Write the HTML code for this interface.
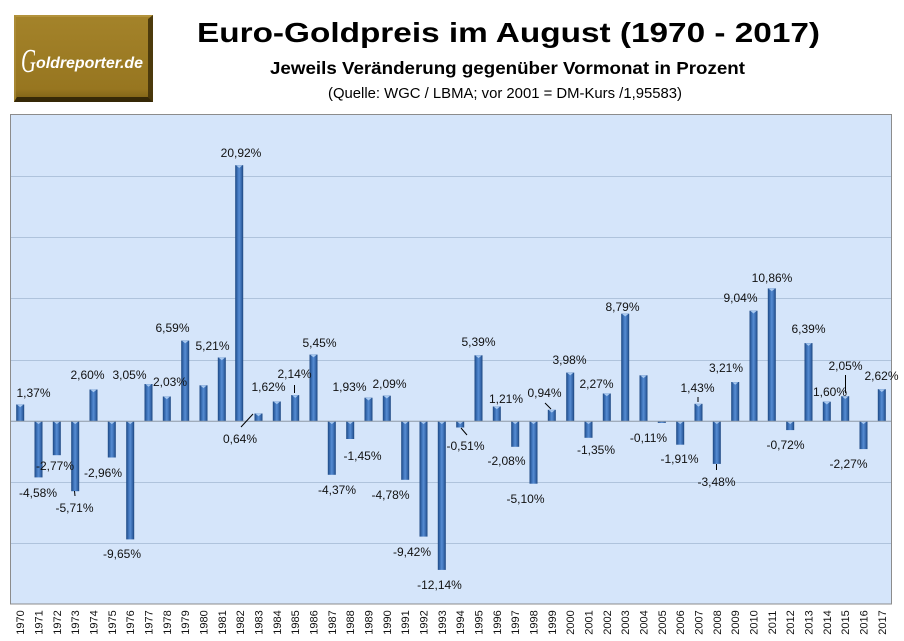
<!DOCTYPE html>
<html><head><meta charset="utf-8"><style>
html,body{margin:0;padding:0;background:#fff;}
svg{display:block;}
.t{font-family:"Liberation Sans",sans-serif;}
.dl{font-family:"Liberation Sans",sans-serif;font-size:12px;fill:#111;text-anchor:middle;}
.yr{font-family:"Liberation Sans",sans-serif;font-size:11px;fill:#111;text-anchor:middle;}
</style></head><body>
<svg width="904" height="641" viewBox="0 0 904 641" xmlns="http://www.w3.org/2000/svg">
<defs>
<linearGradient id="bg" x1="0" y1="0" x2="1" y2="0">
<stop offset="0" stop-color="#1D4781"/><stop offset="0.3" stop-color="#3E73BA"/><stop offset="0.5" stop-color="#568CD2"/><stop offset="0.75" stop-color="#3A6DB2"/><stop offset="1" stop-color="#1C457E"/>
</linearGradient>
<linearGradient id="lg" x1="0" y1="0" x2="0" y2="1">
<stop offset="0" stop-color="#A4832A"/><stop offset="0.85" stop-color="#977620"/><stop offset="1" stop-color="#7A5E14"/>
</linearGradient>
</defs>

<!-- Logo -->
<rect x="14" y="15" width="139" height="87" fill="url(#lg)"/>
<polygon points="14,15 153,15 151,17 16,17" fill="#B99A45" opacity="0.7"/>
<polygon points="14,15 16,17 16,99 14,102" fill="#B39240" opacity="0.6"/>
<polygon points="153,15 153,102 148,97 148,19" fill="#3E2F08" opacity="0.85"/>
<polygon points="14,102 153,102 148,97 17,97" fill="#2E2205" opacity="0.9"/>
<text x="21" y="72" font-family="Liberation Serif,serif" font-style="italic" font-size="34" fill="#fff" textLength="15" lengthAdjust="spacingAndGlyphs">G</text>
<text class="t" x="36" y="68" font-size="16" font-weight="bold" font-style="italic" fill="#fff" textLength="107" lengthAdjust="spacingAndGlyphs">oldreporter.de</text>

<!-- Titles -->
<text class="t" x="197" y="42" font-size="28" font-weight="bold" fill="#000" textLength="623" lengthAdjust="spacingAndGlyphs">Euro-Goldpreis im August (1970 - 2017)</text>
<text class="t" x="270" y="74" font-size="17.5" font-weight="bold" fill="#000" textLength="475" lengthAdjust="spacingAndGlyphs">Jeweils Veränderung gegenüber Vormonat in Prozent</text>
<text class="t" x="328" y="98" font-size="15" fill="#000" textLength="354" lengthAdjust="spacingAndGlyphs">(Quelle: WGC / LBMA; vor 2001 = DM-Kurs /1,95583)</text>

<!-- Plot area -->
<rect x="10.5" y="114.5" width="881" height="489.5" fill="#D5E5FA" stroke="#8C8C8C" stroke-width="1"/>
<g stroke="#AFC3DC" stroke-width="1">
<line x1="11" x2="891" y1="176.5" y2="176.5"/>
<line x1="11" x2="891" y1="237.5" y2="237.5"/>
<line x1="11" x2="891" y1="298.5" y2="298.5"/>
<line x1="11" x2="891" y1="360.5" y2="360.5"/>
<line x1="11" x2="891" y1="482.5" y2="482.5"/>
<line x1="11" x2="891" y1="543.5" y2="543.5"/>
</g>

<!-- Bars -->
<g fill="url(#bg)">
<rect x="16.2" y="404.5" width="8" height="16.8"/>
<rect x="34.5" y="421.3" width="8" height="56.1"/>
<rect x="52.8" y="421.3" width="8" height="33.9"/>
<rect x="71.2" y="421.3" width="8" height="69.9"/>
<rect x="89.5" y="389.5" width="8" height="31.8"/>
<rect x="107.8" y="421.3" width="8" height="36.2"/>
<rect x="126.2" y="421.3" width="8" height="118.1"/>
<rect x="144.5" y="384.0" width="8" height="37.3"/>
<rect x="162.8" y="396.5" width="8" height="24.8"/>
<rect x="181.2" y="340.6" width="8" height="80.7"/>
<rect x="199.5" y="385.3" width="8" height="36.0"/>
<rect x="217.8" y="357.5" width="8" height="63.8"/>
<rect x="235.2" y="165.2" width="8" height="256.1"/>
<rect x="254.5" y="413.5" width="8" height="7.8"/>
<rect x="272.8" y="401.5" width="8" height="19.8"/>
<rect x="291.2" y="395.1" width="8" height="26.2"/>
<rect x="309.5" y="354.6" width="8" height="66.7"/>
<rect x="327.8" y="421.3" width="8" height="53.5"/>
<rect x="346.2" y="421.3" width="8" height="17.7"/>
<rect x="364.5" y="397.7" width="8" height="23.6"/>
<rect x="382.8" y="395.7" width="8" height="25.6"/>
<rect x="401.2" y="421.3" width="8" height="58.5"/>
<rect x="419.5" y="421.3" width="8" height="115.3"/>
<rect x="437.8" y="421.3" width="8" height="148.6"/>
<rect x="456.2" y="421.3" width="8" height="6.2"/>
<rect x="474.5" y="355.3" width="8" height="66.0"/>
<rect x="492.8" y="406.5" width="8" height="14.8"/>
<rect x="511.2" y="421.3" width="8" height="25.5"/>
<rect x="529.5" y="421.3" width="8" height="62.4"/>
<rect x="547.8" y="409.8" width="8" height="11.5"/>
<rect x="566.2" y="372.6" width="8" height="48.7"/>
<rect x="584.5" y="421.3" width="8" height="16.5"/>
<rect x="602.8" y="393.5" width="8" height="27.8"/>
<rect x="621.2" y="313.7" width="8" height="107.6"/>
<rect x="639.5" y="375.3" width="8" height="46.0"/>
<rect x="657.8" y="421.3" width="8" height="1.6"/>
<rect x="676.2" y="421.3" width="8" height="23.4"/>
<rect x="694.5" y="403.8" width="8" height="17.5"/>
<rect x="712.8" y="421.3" width="8" height="42.6"/>
<rect x="731.2" y="382.0" width="8" height="39.3"/>
<rect x="749.5" y="310.7" width="8" height="110.6"/>
<rect x="767.8" y="288.4" width="8" height="132.9"/>
<rect x="786.2" y="421.3" width="8" height="8.8"/>
<rect x="804.5" y="343.1" width="8" height="78.2"/>
<rect x="822.8" y="401.7" width="8" height="19.6"/>
<rect x="841.2" y="396.2" width="8" height="25.1"/>
<rect x="859.5" y="421.3" width="8" height="27.8"/>
<rect x="877.8" y="389.2" width="8" height="32.1"/>
</g>

<!-- bar caps -->
<g fill="#A9C9F0">
<polygon points="17.2,404.8 23.2,404.8 20.2,407.3"/>
<polygon points="35.5,421.6 41.5,421.6 38.5,424.1"/>
<polygon points="53.8,421.6 59.8,421.6 56.8,424.1"/>
<polygon points="72.2,421.6 78.2,421.6 75.2,424.1"/>
<polygon points="90.5,389.8 96.5,389.8 93.5,392.3"/>
<polygon points="108.8,421.6 114.8,421.6 111.8,424.1"/>
<polygon points="127.2,421.6 133.2,421.6 130.2,424.1"/>
<polygon points="145.5,384.3 151.5,384.3 148.5,386.8"/>
<polygon points="163.8,396.8 169.8,396.8 166.8,399.3"/>
<polygon points="182.2,340.9 188.2,340.9 185.2,343.4"/>
<polygon points="200.5,385.6 206.5,385.6 203.5,388.1"/>
<polygon points="218.8,357.8 224.8,357.8 221.8,360.3"/>
<polygon points="236.2,165.5 242.2,165.5 239.2,168.0"/>
<polygon points="255.5,413.8 261.5,413.8 258.5,416.3"/>
<polygon points="273.8,401.8 279.8,401.8 276.8,404.3"/>
<polygon points="292.2,395.4 298.2,395.4 295.2,397.9"/>
<polygon points="310.5,354.9 316.5,354.9 313.5,357.4"/>
<polygon points="328.8,421.6 334.8,421.6 331.8,424.1"/>
<polygon points="347.2,421.6 353.2,421.6 350.2,424.1"/>
<polygon points="365.5,398.0 371.5,398.0 368.5,400.5"/>
<polygon points="383.8,396.0 389.8,396.0 386.8,398.5"/>
<polygon points="402.2,421.6 408.2,421.6 405.2,424.1"/>
<polygon points="420.5,421.6 426.5,421.6 423.5,424.1"/>
<polygon points="438.8,421.6 444.8,421.6 441.8,424.1"/>
<polygon points="457.2,421.6 463.2,421.6 460.2,424.1"/>
<polygon points="475.5,355.6 481.5,355.6 478.5,358.1"/>
<polygon points="493.8,406.8 499.8,406.8 496.8,409.3"/>
<polygon points="512.2,421.6 518.2,421.6 515.2,424.1"/>
<polygon points="530.5,421.6 536.5,421.6 533.5,424.1"/>
<polygon points="548.8,410.1 554.8,410.1 551.8,412.6"/>
<polygon points="567.2,372.9 573.2,372.9 570.2,375.4"/>
<polygon points="585.5,421.6 591.5,421.6 588.5,424.1"/>
<polygon points="603.8,393.8 609.8,393.8 606.8,396.3"/>
<polygon points="622.2,314.0 628.2,314.0 625.2,316.5"/>
<polygon points="640.5,375.6 646.5,375.6 643.5,378.1"/>
<polygon points="677.2,421.6 683.2,421.6 680.2,424.1"/>
<polygon points="695.5,404.1 701.5,404.1 698.5,406.6"/>
<polygon points="713.8,421.6 719.8,421.6 716.8,424.1"/>
<polygon points="732.2,382.3 738.2,382.3 735.2,384.8"/>
<polygon points="750.5,311.0 756.5,311.0 753.5,313.5"/>
<polygon points="768.8,288.7 774.8,288.7 771.8,291.2"/>
<polygon points="787.2,421.6 793.2,421.6 790.2,424.1"/>
<polygon points="805.5,343.4 811.5,343.4 808.5,345.9"/>
<polygon points="823.8,402.0 829.8,402.0 826.8,404.5"/>
<polygon points="842.2,396.5 848.2,396.5 845.2,399.0"/>
<polygon points="860.5,421.6 866.5,421.6 863.5,424.1"/>
<polygon points="878.8,389.5 884.8,389.5 881.8,392.0"/>
</g>

<!-- zero line -->
<line x1="11" x2="891" y1="421.3" y2="421.3" stroke="#8E99A6" stroke-width="1"/>

<!-- leader lines -->
<g stroke="#000" stroke-width="1" fill="none">
<line x1="74.5" y1="491" x2="75" y2="496"/>
<line x1="253" y1="414" x2="241" y2="427"/>
<line x1="294.5" y1="385" x2="294.5" y2="393"/>
<line x1="461" y1="428" x2="467" y2="435"/>
<line x1="545" y1="403" x2="551" y2="409"/>
<line x1="698" y1="397" x2="698" y2="402"/>
<line x1="716.5" y1="464" x2="716.5" y2="470"/>
<line x1="845.5" y1="375" x2="845.5" y2="393"/>
</g>

<!-- data labels -->
<text class="dl" x="33.5" y="397">1,37%</text>
<text class="dl" x="38" y="497">-4,58%</text>
<text class="dl" x="55" y="470">-2,77%</text>
<text class="dl" x="74.5" y="512">-5,71%</text>
<text class="dl" x="87.5" y="379">2,60%</text>
<text class="dl" x="103" y="477">-2,96%</text>
<text class="dl" x="122" y="558">-9,65%</text>
<text class="dl" x="129.5" y="379">3,05%</text>
<text class="dl" x="170" y="386">2,03%</text>
<text class="dl" x="172.5" y="332">6,59%</text>
<text class="dl" x="212.5" y="350">5,21%</text>
<text class="dl" x="241" y="157">20,92%</text>
<text class="dl" x="240" y="443">0,64%</text>
<text class="dl" x="268.5" y="391">1,62%</text>
<text class="dl" x="294.5" y="378">2,14%</text>
<text class="dl" x="319.5" y="347">5,45%</text>
<text class="dl" x="337" y="494">-4,37%</text>
<text class="dl" x="362.5" y="460">-1,45%</text>
<text class="dl" x="349.5" y="391">1,93%</text>
<text class="dl" x="389.5" y="388">2,09%</text>
<text class="dl" x="390.5" y="499">-4,78%</text>
<text class="dl" x="412" y="556">-9,42%</text>
<text class="dl" x="439.5" y="589">-12,14%</text>
<text class="dl" x="465.5" y="450">-0,51%</text>
<text class="dl" x="478.5" y="346">5,39%</text>
<text class="dl" x="506" y="403">1,21%</text>
<text class="dl" x="506.5" y="465">-2,08%</text>
<text class="dl" x="525.5" y="503">-5,10%</text>
<text class="dl" x="544.5" y="397">0,94%</text>
<text class="dl" x="569.5" y="364">3,98%</text>
<text class="dl" x="596" y="454">-1,35%</text>
<text class="dl" x="596.5" y="388">2,27%</text>
<text class="dl" x="622.5" y="311">8,79%</text>
<text class="dl" x="648.5" y="442">-0,11%</text>
<text class="dl" x="679.5" y="463">-1,91%</text>
<text class="dl" x="697.5" y="392">1,43%</text>
<text class="dl" x="716.5" y="486">-3,48%</text>
<text class="dl" x="726" y="372">3,21%</text>
<text class="dl" x="740.5" y="302">9,04%</text>
<text class="dl" x="772" y="282">10,86%</text>
<text class="dl" x="785.5" y="449">-0,72%</text>
<text class="dl" x="808.5" y="333">6,39%</text>
<text class="dl" x="830" y="396">1,60%</text>
<text class="dl" x="845.5" y="370">2,05%</text>
<text class="dl" x="848.5" y="468">-2,27%</text>
<text class="dl" x="881.5" y="380">2,62%</text>

<!-- year labels -->
<g class="yr">
<text class="yr" transform="translate(24.2,622.5) rotate(-90)">1970</text>
<text class="yr" transform="translate(42.5,622.5) rotate(-90)">1971</text>
<text class="yr" transform="translate(60.8,622.5) rotate(-90)">1972</text>
<text class="yr" transform="translate(79.2,622.5) rotate(-90)">1973</text>
<text class="yr" transform="translate(97.5,622.5) rotate(-90)">1974</text>
<text class="yr" transform="translate(115.8,622.5) rotate(-90)">1975</text>
<text class="yr" transform="translate(134.2,622.5) rotate(-90)">1976</text>
<text class="yr" transform="translate(152.5,622.5) rotate(-90)">1977</text>
<text class="yr" transform="translate(170.8,622.5) rotate(-90)">1978</text>
<text class="yr" transform="translate(189.2,622.5) rotate(-90)">1979</text>
<text class="yr" transform="translate(207.5,622.5) rotate(-90)">1980</text>
<text class="yr" transform="translate(225.8,622.5) rotate(-90)">1981</text>
<text class="yr" transform="translate(244.2,622.5) rotate(-90)">1982</text>
<text class="yr" transform="translate(262.5,622.5) rotate(-90)">1983</text>
<text class="yr" transform="translate(280.8,622.5) rotate(-90)">1984</text>
<text class="yr" transform="translate(299.2,622.5) rotate(-90)">1985</text>
<text class="yr" transform="translate(317.5,622.5) rotate(-90)">1986</text>
<text class="yr" transform="translate(335.8,622.5) rotate(-90)">1987</text>
<text class="yr" transform="translate(354.2,622.5) rotate(-90)">1988</text>
<text class="yr" transform="translate(372.5,622.5) rotate(-90)">1989</text>
<text class="yr" transform="translate(390.8,622.5) rotate(-90)">1990</text>
<text class="yr" transform="translate(409.2,622.5) rotate(-90)">1991</text>
<text class="yr" transform="translate(427.5,622.5) rotate(-90)">1992</text>
<text class="yr" transform="translate(445.8,622.5) rotate(-90)">1993</text>
<text class="yr" transform="translate(464.2,622.5) rotate(-90)">1994</text>
<text class="yr" transform="translate(482.5,622.5) rotate(-90)">1995</text>
<text class="yr" transform="translate(500.8,622.5) rotate(-90)">1996</text>
<text class="yr" transform="translate(519.2,622.5) rotate(-90)">1997</text>
<text class="yr" transform="translate(537.5,622.5) rotate(-90)">1998</text>
<text class="yr" transform="translate(555.8,622.5) rotate(-90)">1999</text>
<text class="yr" transform="translate(574.2,622.5) rotate(-90)">2000</text>
<text class="yr" transform="translate(592.5,622.5) rotate(-90)">2001</text>
<text class="yr" transform="translate(610.8,622.5) rotate(-90)">2002</text>
<text class="yr" transform="translate(629.2,622.5) rotate(-90)">2003</text>
<text class="yr" transform="translate(647.5,622.5) rotate(-90)">2004</text>
<text class="yr" transform="translate(665.8,622.5) rotate(-90)">2005</text>
<text class="yr" transform="translate(684.2,622.5) rotate(-90)">2006</text>
<text class="yr" transform="translate(702.5,622.5) rotate(-90)">2007</text>
<text class="yr" transform="translate(720.8,622.5) rotate(-90)">2008</text>
<text class="yr" transform="translate(739.2,622.5) rotate(-90)">2009</text>
<text class="yr" transform="translate(757.5,622.5) rotate(-90)">2010</text>
<text class="yr" transform="translate(775.8,622.5) rotate(-90)">2011</text>
<text class="yr" transform="translate(794.2,622.5) rotate(-90)">2012</text>
<text class="yr" transform="translate(812.5,622.5) rotate(-90)">2013</text>
<text class="yr" transform="translate(830.8,622.5) rotate(-90)">2014</text>
<text class="yr" transform="translate(849.2,622.5) rotate(-90)">2015</text>
<text class="yr" transform="translate(867.5,622.5) rotate(-90)">2016</text>
<text class="yr" transform="translate(885.8,622.5) rotate(-90)">2017</text>
</g>
</svg>
</body></html>
